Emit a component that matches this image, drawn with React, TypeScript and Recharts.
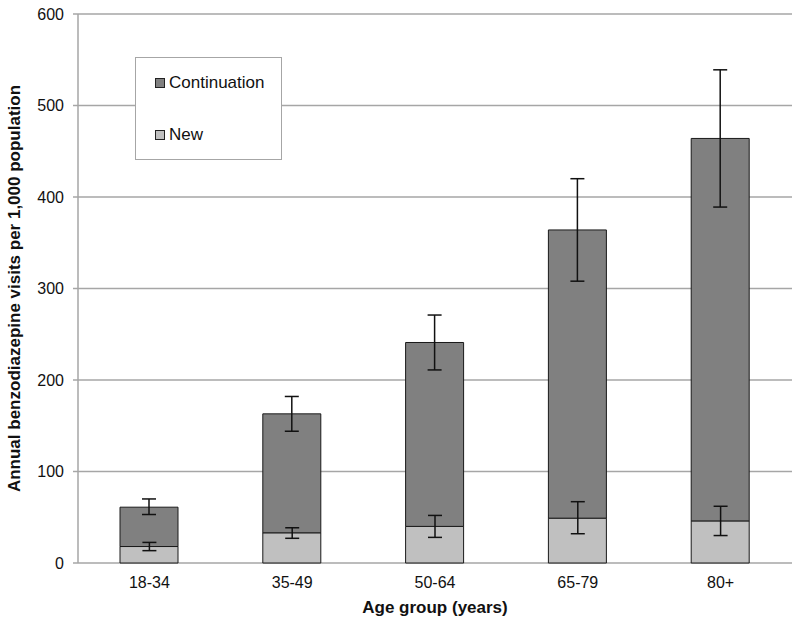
import React from "react"
import { ComposedChart, Bar, Line, XAxis, YAxis, CartesianGrid, ErrorBar, Legend } from "recharts"

// values
const ageGroups = ["18-34", "35-49", "50-64", "65-79", "80+"]
const newVisits = [18, 33, 40, 49, 46]
const continuationVisits = [43, 130, 201, 315, 418]
// error offsets [below, above], around each stack top
const totalErr = [[8, 9], [19, 19], [30, 30], [56, 56], [75, 75]]
const newErr = [[4.5, 4.5], [6, 5.5], [12, 12], [17, 18], [16, 16]]
const yTicks = [0, 100, 200, 300, 400, 500, 600]
const boundaryTicks = [0, 1, 2, 3, 4, 5]

const data = ageGroups.map((g, i) => ({
  group: g,
  newVal: newVisits[i],
  contVal: continuationVisits[i],
  totalErr: totalErr[i],
  newErr: newErr[i],
}))

const FONT = "'Liberation Sans', Arial, sans-serif"
const GRID = "#a6a6a6"

const legendItems = [
  { name: "Continuation", color: "#808080" },
  { name: "New", color: "#c0c0c0" },
]

const LegendBox = () => (
  <div
    style={{
      width: 147,
      height: 103,
      boxSizing: "border-box",
      border: "1px solid " + GRID,
      background: "white",
      fontFamily: FONT,
      fontSize: 17,
      color: "#111",
      position: "relative",
    }}
  >
    {legendItems.map((item, i) => (
      <div key={item.name} style={{ position: "absolute", left: 19, top: 15 + i * 52, display: "flex", alignItems: "center" }}>
        <span style={{ display: "inline-block", width: 8, height: 8, background: item.color, border: "1px solid #222", marginRight: 4 }} />
        <span>{item.name}</span>
      </div>
    ))}
  </div>
)

export default function App() {
  return (
    <div style={{ position: "absolute", left: 0, top: 0, background: "white" }}>
      <ComposedChart width={800} height={624} data={data} margin={{ top: 14, right: 8, bottom: 0, left: 0 }}>
        <CartesianGrid vertical={false} stroke={GRID} strokeWidth={1.5} />
        <XAxis
          xAxisId="bounds"
          type="number"
          domain={[0, 5]}
          ticks={boundaryTicks}
          tick={false}
          height={0}
          axisLine={{ stroke: GRID, strokeWidth: 1.5 }}
          tickLine={{ stroke: GRID, strokeWidth: 1.5 }}
          tickSize={5}
          allowDataOverflow
        />
        <XAxis
          dataKey="group"
          axisLine={false}
          tickLine={false}
          height={61}
          tickMargin={8}
          tick={{ fontFamily: FONT, fontSize: 16, fill: "#111" }}
          label={{ value: "Age group (years)", position: "insideBottom", offset: 11, style: { fontFamily: FONT, fontSize: 17, fontWeight: 700, fill: "#111" } }}
        />
        <YAxis
          domain={[0, 600]}
          ticks={yTicks}
          width={78}
          axisLine={{ stroke: GRID, strokeWidth: 1.5 }}
          tickLine={{ stroke: GRID, strokeWidth: 1.5 }}
          tickSize={5}
          tickMargin={9}
          tick={{ fontFamily: FONT, fontSize: 16, fill: "#111" }}
          label={{
            value: "Annual benzodiazepine visits per 1,000 population",
            angle: -90,
            position: "insideLeft",
            offset: 14,
            style: { textAnchor: "middle", fontFamily: FONT, fontSize: 17, fontWeight: 700, fill: "#111" },
          }}
        />
        <Legend
          layout="vertical"
          align="center"
          verticalAlign="middle"
          content={<LegendBox />}
          wrapperStyle={{ left: 135, top: 57, width: 147, height: 103 }}
        />
        <Bar dataKey="newVal" name="New" stackId="a" fill="#c0c0c0" stroke="#1a1a1a" strokeWidth={1} barSize={58} isAnimationActive={false} />
        <Bar dataKey="contVal" name="Continuation" stackId="a" fill="#808080" stroke="#1a1a1a" strokeWidth={1} barSize={58} isAnimationActive={false}>
          <ErrorBar dataKey="totalErr" width={7} stroke="#111" strokeWidth={1.5} />
        </Bar>
        <Line dataKey="newVal" stroke="none" dot={false} activeDot={false} legendType="none" isAnimationActive={false}>
          <ErrorBar dataKey="newErr" width={7} stroke="#111" strokeWidth={1.5} />
        </Line>
      </ComposedChart>
    </div>
  )
}
